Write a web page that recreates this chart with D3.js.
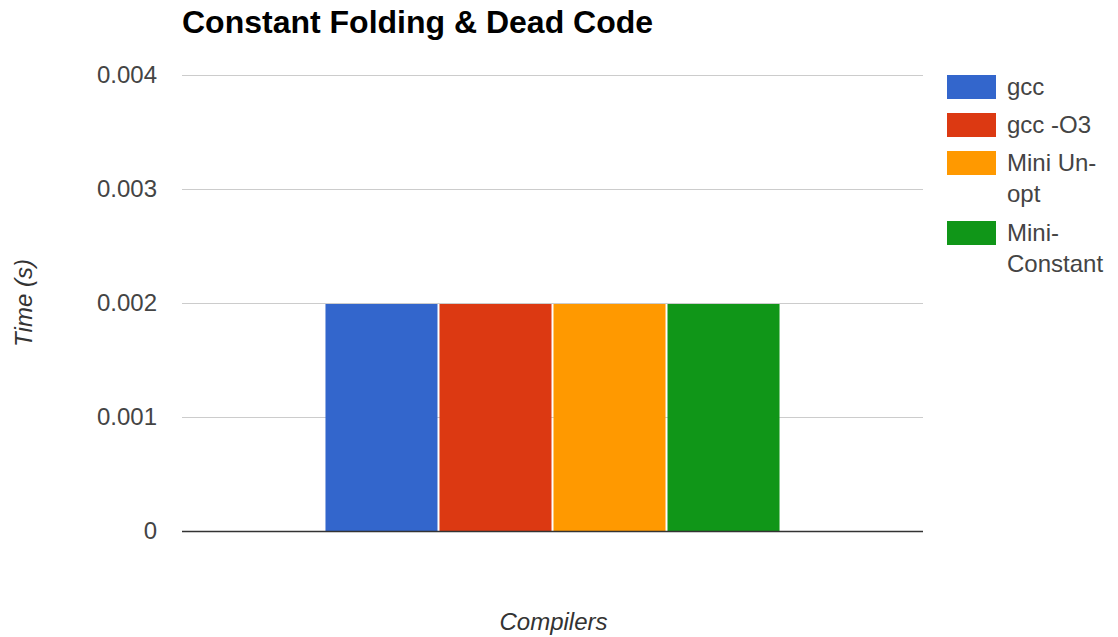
<!DOCTYPE html>
<html>
<head>
<meta charset="utf-8">
<script src="https://cdn.jsdelivr.net/npm/d3@7/dist/d3.min.js"></script>
<style>
  html, body { margin: 0; padding: 0; background: #fff; }
  svg { display: block; font-family: "Liberation Sans", Arial, sans-serif; }
</style>
</head>
<body>
<svg id="chart" width="1118" height="637"></svg>
<script>
const title = "Constant Folding & Dead Code";
const categories = [""];
const seriesNames = ["gcc", "gcc -O3", "Mini Un-opt", "Mini-Constant"];
const legendLines = [["gcc"], ["gcc -O3"], ["Mini Un-", "opt"], ["Mini-", "Constant"]];
const seriesValues = [[0.002], [0.002], [0.002], [0.002]];
const seriesColors = ["#3366cc", "#dc3912", "#ff9900", "#109618"];
const yTicks = [0, 0.001, 0.002, 0.003, 0.004];
const yTickLabels = ["0", "0.001", "0.002", "0.003", "0.004"];
const xTitle = "Compilers";
const yTitle = "Time (s)";

const svg = d3.select("#chart");
const plot = { left: 182, right: 923, top: 75, bottom: 531 };

const y = d3.scaleLinear().domain([0, 0.004]).range([plot.bottom, plot.top]);
const x0 = d3.scaleBand().domain(categories).range([plot.left, plot.right])
  .paddingInner(0).paddingOuter(0.316);
const x1 = d3.scaleBand().domain(seriesNames).range([0, x0.bandwidth()])
  .paddingInner(0.0175).paddingOuter(0);

// Title
svg.append("text").attr("x", 182).attr("y", 33)
  .attr("font-size", 32).attr("font-weight", "bold").attr("fill", "#000")
  .text(title);

// Gridlines
svg.append("g").selectAll("line").data(yTicks.filter(d => d !== 0)).join("line")
  .attr("x1", plot.left).attr("x2", plot.right)
  .attr("y1", d => Math.round(y(d)) + 0.5).attr("y2", d => Math.round(y(d)) + 0.5)
  .attr("stroke", "#cccccc").attr("stroke-width", 1);

// Y axis labels
const yAxis = d3.axisLeft(y).tickValues(yTicks)
  .tickFormat((d, i) => yTickLabels[i]).tickSize(0).tickPadding(25);
const gy = svg.append("g").attr("transform", `translate(${plot.left},0)`).call(yAxis);
gy.select(".domain").remove();
gy.selectAll("text").attr("font-size", 24).attr("fill", "#444")
  .attr("font-family", "Liberation Sans, Arial, sans-serif");

// Bars
const groups = svg.append("g").selectAll("g").data(categories).join("g")
  .attr("transform", d => `translate(${x0(d)},0)`);
groups.selectAll("rect")
  .data((d, ci) => seriesNames.map((s, si) => ({ s, si, v: seriesValues[si][ci] })))
  .join("rect")
  .attr("x", d => x1(d.s))
  .attr("width", x1.bandwidth())
  .attr("y", d => y(d.v) + 1)
  .attr("height", d => y(0) - y(d.v) - 1)
  .attr("fill", d => seriesColors[d.si]);

// Baseline
svg.append("line").attr("x1", plot.left).attr("x2", plot.right)
  .attr("y1", y(0) + 0.5).attr("y2", y(0) + 0.5)
  .attr("stroke", "#333").attr("stroke-width", 1.5);

// Axis titles
svg.append("text").attr("x", (plot.left + plot.right) / 2 + 1).attr("y", 630)
  .attr("text-anchor", "middle").attr("font-size", 24).attr("font-style", "italic")
  .attr("fill", "#333").text(xTitle);
svg.append("text").attr("transform", "translate(32,303) rotate(-90)")
  .attr("text-anchor", "middle").attr("font-size", 24).attr("font-style", "italic")
  .attr("fill", "#333").text(yTitle);

// Legend
const legend = svg.append("g");
let ly = 75;
seriesNames.forEach((s, i) => {
  const g = legend.append("g").attr("transform", `translate(947,${ly})`);
  g.append("rect").attr("width", 49).attr("height", 24).attr("fill", seriesColors[i]);
  legendLines[i].forEach((line, j) => {
    g.append("text").attr("x", 60).attr("y", 20 + j * 31)
      .attr("font-size", 24).attr("fill", "#444").text(line);
  });
  ly += 38 + (legendLines[i].length - 1) * 32;
});
</script>
</body>
</html>
